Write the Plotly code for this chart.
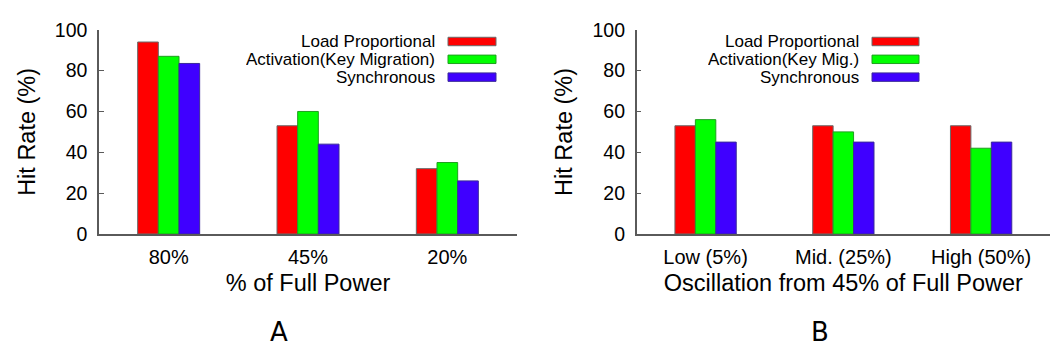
import plotly.graph_objects as go

# Categories
power_levels = ["80%", "45%", "20%"]
oscillation_levels = ["Low (5%)", "Mid. (25%)", "High (50%)"]

# Series names
names_a = ["Load Proportional", "Activation(Key Migration)", "Synchronous"]
names_b = ["Load Proportional", "Activation(Key Mig.)", "Synchronous"]

# Hit rate (%) — panel A: by % of full power
load_prop_a = [94, 53, 32]
activation_a = [87, 60, 35]
synchronous_a = [83.5, 44, 26]

# Hit rate (%) — panel B: by oscillation around 45% of full power
load_prop_b = [53, 53, 53]
activation_b = [56, 50, 42]
synchronous_b = [45, 45, 45]

y_ticks = [0, 20, 40, 60, 80, 100]

W, H = 1058, 356
FONT = "Liberation Sans, Arial, Helvetica, sans-serif"

fills = ["#ff0000", "#00ff00", "#3f00ff"]
edges = ["#6a6a6a", "#1f9f1f", "#3a2a9a"]
AXIS_COLOR = "#5a5a5a"


def px_x(x):
    return x / W


def px_y(y):
    return 1 - y / H


fig = go.Figure()

panels = [
    ("x", "y", power_levels, [load_prop_a, activation_a, synchronous_a], names_a),
    ("x2", "y2", oscillation_levels, [load_prop_b, activation_b, synchronous_b], names_b),
]

for xa, ya, cats, series, names in panels:
    for vals, name, fc, ec in zip(series, names, fills, edges):
        fig.add_trace(go.Bar(
            x=cats, y=vals, name=name, xaxis=xa, yaxis=ya,
            marker=dict(color=fc, line=dict(color=ec, width=1)),
            showlegend=False,
        ))

y_bottom = px_y(237.7)
y_top = px_y(20)

line_common = dict(
    showline=True, linecolor=AXIS_COLOR, linewidth=1.5,
    showgrid=False, zeroline=False,
)
x_common = dict(
    type="category", range=[-0.5, 2.5], ticks="", ticklabelstandoff=4,
    tickfont=dict(family=FONT, size=20, color="#000"),
    title_font=dict(family=FONT, size=23.5, color="#000"),
    **line_common,
)
y_common = dict(
    range=[0, 100], tickvals=y_ticks, ticks="inside", ticklen=5,
    tickcolor=AXIS_COLOR, ticklabelstandoff=6,
    tickfont=dict(family=FONT, size=19.5, color="#000"),
    title_font=dict(family=FONT, size=23.5, color="#000"),
    **line_common,
)

fig.update_layout(
    width=W, height=H,
    margin=dict(l=0, r=0, t=0, b=0),
    paper_bgcolor="white", plot_bgcolor="white",
    barmode="group", bargap=0.555, bargroupgap=0,
    font=dict(family=FONT, color="#000"),
    xaxis=dict(domain=[px_x(99), px_x(517)], anchor="y",
               title=dict(text="% of Full Power", standoff=8), **x_common),
    yaxis=dict(domain=[y_bottom, y_top], anchor="x",
               title=dict(text="Hit Rate (%)", standoff=13), **y_common),
    xaxis2=dict(domain=[px_x(636.7), px_x(1050)], anchor="y2",
                title=dict(text="Oscillation from 45% of Full Power", standoff=8),
                **x_common),
    yaxis2=dict(domain=[y_bottom, y_top], anchor="x2",
                title=dict(text="Hit Rate (%)", standoff=13), **y_common),
)

# Legends: right-aligned labels with swatches to their right
row_y = [32.5, 51.5, 70.5]
legend_specs = [
    (names_a, 436, 448, 496),
    (names_b, 860, 872, 919),
]
for names, text_right, sw_left, sw_right in legend_specs:
    for name, ry, fc, ec in zip(names, row_y, fills, edges):
        fig.add_annotation(
            x=px_x(text_right), y=px_y(ry), xref="paper", yref="paper",
            text=name, showarrow=False, xanchor="right", yanchor="middle",
            height=18.5, borderpad=0,
            font=dict(family=FONT, size=17, color="#000"),
        )
        fig.add_shape(
            type="rect", xref="paper", yref="paper",
            x0=px_x(sw_left), x1=px_x(sw_right),
            y0=px_y(ry + 4.5), y1=px_y(ry - 4.5),
            fillcolor=fc, line=dict(color=ec, width=1),
        )

# Panel labels
for label, cx in [("A", 279), ("B", 820)]:
    fig.add_annotation(
        x=px_x(cx), y=px_y(342), xref="paper", yref="paper",
        text=label, showarrow=False, xanchor="center", yanchor="middle",
        font=dict(family="DejaVu Sans, sans-serif", size=26, color="#000"),
    )

fig.write_html("out.html")
